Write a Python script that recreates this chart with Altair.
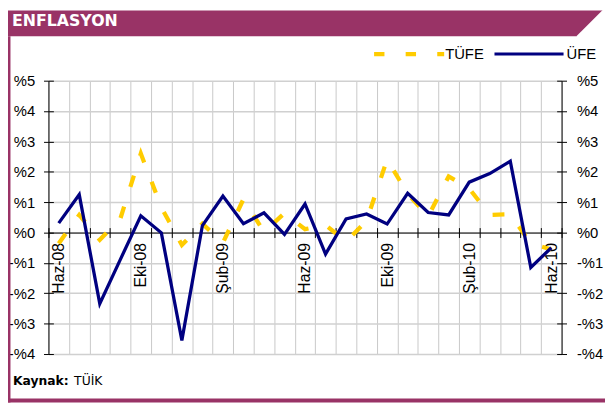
import json
import altair as alt
import pandas as pd

# ---- data ----
months = ["Haz-08", "Tem-08", "Ağu-08", "Eyl-08", "Eki-08", "Kas-08", "Ara-08",
          "Oca-09", "Şub-09", "Mar-09", "Nis-09", "May-09", "Haz-09", "Tem-09",
          "Ağu-09", "Eyl-09", "Eki-09", "Kas-09", "Ara-09", "Oca-10", "Şub-10",
          "Mar-10", "Nis-10", "May-10", "Haz-10"]
tufe = [-0.36, 0.58, -0.24, 0.45, 2.60, 0.83, -0.41, 0.29, -0.34, 1.10, 0.02, 0.64,
        0.11, 0.25, -0.30, 0.39, 2.41, 1.27, 0.53, 1.85, 1.45, 0.58, 0.60, -0.36, -0.56]
ufe = [0.31, 1.25, -2.34, -0.89, 0.55, -0.01, -3.55, 0.23, 1.20, 0.29, 0.65, -0.06,
       0.94, -0.71, 0.45, 0.61, 0.28, 1.29, 0.66, 0.58, 1.66, 1.94, 2.35, -1.15, -0.50]
shown_labels = ["Haz-08", "Eki-08", "Şub-09", "Haz-09", "Eki-09", "Şub-10", "Haz-10"]
y_ticks = [-4, -3, -2, -1, 0, 1, 2, 3, 4, 5]
title_text = "ENFLASYON"
legend_names = ["TÜFE", "ÜFE"]
source_label = "Kaynak:"
source_name = "TÜİK"

df = pd.DataFrame({"ay": months, "tufe": tufe, "ufe": ufe})
one = alt.InlineData(values=[{"k": 1}])

W, H = 520, 277
MAROON = "#993366"
NAVY = "#000080"
YELLOW = "#FFCC00"
FONT = "Liberation Sans"
ydom = [min(y_ticks), max(y_ticks)]
zero_px = H * ydom[1] / (ydom[1] - ydom[0])

yscale = alt.Scale(domain=ydom, nice=False, zero=False)
xscale = alt.Scale(type="band", paddingInner=0, paddingOuter=0)
ylab = "datum.value < 0 ? '-%' + abs(datum.value) : '%' + datum.value"
xlab = "indexof(" + json.dumps(shown_labels, ensure_ascii=False) + ", datum.value) >= 0 ? datum.value : ''"


def xenc(axis):
    return alt.X("ay:N", sort=months, scale=xscale, axis=axis, bandPosition=0.5, title=None)


# grid layer
grid = alt.Chart(df).mark_line(opacity=0).encode(
    x=xenc(alt.Axis(orient="bottom", grid=True, gridColor="#c8c8c8", gridWidth=1,
                    tickBand="extent", labels=False, ticks=False, domain=False)),
    y=alt.Y("ufe:Q", scale=yscale, title=None,
            axis=alt.Axis(orient="left", values=y_ticks, grid=True, gridColor="#d0d0d0",
                          gridWidth=1.5, labels=False, ticks=False, domain=False)),
)

# decorations
bar = alt.Chart(one).mark_rect(color=MAROON).encode(
    x=alt.value(-41), x2=alt.value(564), y=alt.value(-71), y2=alt.value(-45))
cut = alt.Chart(one).mark_rule(color="white", strokeWidth=22, strokeCap="butt").encode(
    x=alt.value(542.8), y=alt.value(-37.2), x2=alt.value(582.8), y2=alt.value(-77.2))
left_border = alt.Chart(one).mark_rect(color=MAROON).encode(
    x=alt.value(-41), x2=alt.value(-38.5), y=alt.value(-45), y2=alt.value(326))
bottom_border = alt.Chart(one).mark_rect(color=MAROON).encode(
    x=alt.value(-41), x2=alt.value(564), y=alt.value(322), y2=alt.value(326))

# data lines with their axes
tufe_line = alt.Chart(df).mark_line(color=YELLOW, strokeWidth=4.3, strokeDash=[12, 21],
                                    strokeCap="butt").encode(
    x=xenc(alt.Axis(orient="bottom", offset=-(H - zero_px), tickBand="extent", tickSize=5,
                    tickColor="black", domainColor="black", domainWidth=1, grid=False,
                    labelExpr=xlab, labelAngle=270, labelAlign="right", labelBaseline="middle",
                    labelPadding=5, labelFontSize=16, labelFont=FONT, labelColor="black",
                    labelOverlap=False)),
    y=alt.Y("tufe:Q", scale=yscale, title=None,
            axis=alt.Axis(orient="left", values=y_ticks, labelExpr=ylab, tickSize=5,
                          tickColor="black", domainColor="black", labelPadding=9,
                          labelFontSize=15, labelFont=FONT, labelColor="black", grid=False)),
)
ufe_line = alt.Chart(df).mark_line(color=NAVY, strokeWidth=3.3).encode(
    x=xenc(alt.Axis(orient="top", offset=-zero_px, tickBand="extent", tickSize=5,
                    tickColor="black", labels=False, domain=False, grid=False)),
    y=alt.Y("ufe:Q", scale=yscale, title=None,
            axis=alt.Axis(orient="right", values=y_ticks, labelExpr=ylab, tickSize=5,
                          tickColor="black", domainColor="black", labelPadding=10,
                          labelFontSize=15, labelFont=FONT, labelColor="black", grid=False)),
)
inner_left = alt.Chart(df).mark_line(opacity=0).encode(
    y=alt.Y("ufe:Q", scale=yscale, title=None,
            axis=alt.Axis(orient="right", offset=-W, values=y_ticks, labels=False,
                          domain=False, grid=False, tickSize=5, tickColor="black")))
inner_right = alt.Chart(df).mark_line(opacity=0).encode(
    y=alt.Y("ufe:Q", scale=yscale, title=None,
            axis=alt.Axis(orient="left", offset=-W, values=y_ticks, labels=False,
                          domain=False, grid=False, tickSize=5, tickColor="black")))

# texts and legend
title = alt.Chart(one).mark_text(text=title_text, color="white", font="DejaVu Sans",
                                 fontWeight="bold", fontSize=16, align="left",
                                 baseline="middle").encode(x=alt.value(-37), y=alt.value(-60))
leg_dash = alt.Chart(one).mark_rule(color=YELLOW, strokeWidth=4.3, strokeDash=[10.5, 21.5],
                                    strokeCap="butt").encode(
    x=alt.value(330), x2=alt.value(401), y=alt.value(-27))
leg_t1 = alt.Chart(one).mark_text(text=legend_names[0], font=FONT, fontSize=15, color="black",
                                  align="left", baseline="middle").encode(
    x=alt.value(402), y=alt.value(-27))
leg_line = alt.Chart(one).mark_rule(color=NAVY, strokeWidth=3).encode(
    x=alt.value(452), x2=alt.value(522), y=alt.value(-27))
leg_t2 = alt.Chart(one).mark_text(text=legend_names[1], font=FONT, fontSize=15, color="black",
                                  align="left", baseline="middle").encode(
    x=alt.value(525), y=alt.value(-27))
src1 = alt.Chart(one).mark_text(text=source_label, font="DejaVu Sans", fontWeight="bold",
                                fontSize=12.5, color="black", align="left",
                                baseline="alphabetic").encode(x=alt.value(-36), y=alt.value(308))
src2 = alt.Chart(one).mark_text(text=source_name, font="DejaVu Sans", fontSize=12.5,
                                color="black", align="left",
                                baseline="alphabetic").encode(x=alt.value(26), y=alt.value(308))

chart = alt.layer(
    grid, bar, cut, left_border, bottom_border, tufe_line, ufe_line, inner_left, inner_right,
    title, leg_dash, leg_t1, leg_line, leg_t2, src1, src2
).resolve_axis(x="independent", y="independent").properties(
    width=W, height=H,
    autosize=alt.AutoSizeParams(type="none"),
    padding={"left": 41, "top": 71, "right": 44, "bottom": 49},
    background="white",
).configure_view(strokeWidth=0)

chart.save("out.html", embed_options={"renderer": "svg", "actions": False})
